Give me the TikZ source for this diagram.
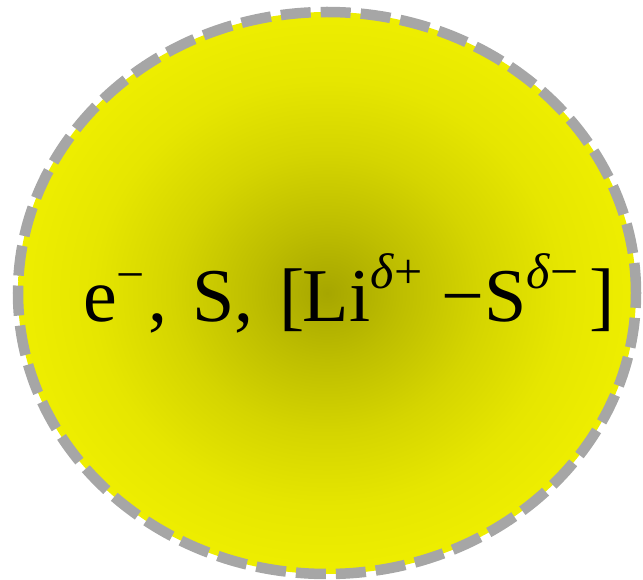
\documentclass[tikz,border=0pt]{standalone}
\usepackage{fontspec}
\setmainfont{Liberation Serif}
\usetikzlibrary{shapes.geometric}
\definecolor{glowA}{RGB}{166,166,0}
\definecolor{glowB}{RGB}{190,190,0}
\definecolor{glowC}{RGB}{213,213,0}
\definecolor{glowD}{RGB}{230,230,0}
\definecolor{glowE}{RGB}{238,238,0}
\definecolor{rimgray}{RGB}{166,166,166}
\pgfdeclareradialshading{glow}{\pgfpoint{0bp}{0bp}}{%
  color(0bp)=(glowA); color(6bp)=(glowB); color(12.5bp)=(glowC);
  color(19bp)=(glowD); color(25bp)=(glowE); color(50bp)=(glowE)}
\newcommand\supx[2][31pt]{\raisebox{#1}{\fontsize{50}{54}\selectfont #2}}
\tikzset{
  blobstyle/.style={ellipse, inner sep=0pt, outer sep=0pt,
    minimum width=618pt, minimum height=562pt,
    shading=glow, draw=rimgray, line width=10.5pt,
    dash pattern=on 30pt off 10pt},
  labelstyle/.style={font=\fontsize{76}{80}\selectfont, inner sep=0pt, anchor=base west}
}
\begin{document}
\begin{tikzpicture}[x=1pt,y=-1pt]
\useasboundingbox (0,0) rectangle (643,580);
\node[blobstyle] (blob) at (327,293) {};
\node[labelstyle] (lbl) at (83,322) {e\supx{−}\hspace{3pt},\ \hspace{6pt}S,\ \hspace{7pt}[\hspace{-2pt}Li\supx[33pt]{\textit{δ}+}\ −S\supx[33pt]{\textit{δ}−}\hspace{0.15em}]};
\end{tikzpicture}
\end{document}
